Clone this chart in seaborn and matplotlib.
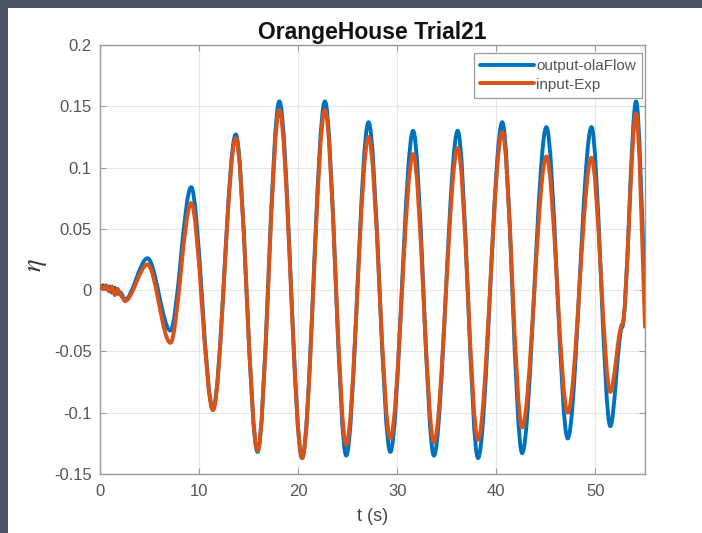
import numpy as np
import pandas as pd
import seaborn as sns
import matplotlib
matplotlib.use("Agg")
import matplotlib.pyplot as plt
from matplotlib.path import Path
from matplotlib.patches import PathPatch, Rectangle
from matplotlib.lines import Line2D

# ---------------- data ----------------
series_names = ["output-olaFlow", "input-Exp"]

# noisy lead-in (straight segments)
lead_t = [0.0, 0.3, 0.6, 0.9, 1.2, 1.5, 1.8, 2.1]
lead_output = [0.002, 0.004, 0.001, 0.003, -0.002, 0.002, -0.003, -0.002]
lead_input = [0.003, 0.001, 0.004, -0.001, 0.003, -0.004, 0.001, -0.004]

# crests / troughs of the wave train
ext_t = [2.5, 4.8, 7.1, 9.2, 11.4, 13.7, 15.9, 18.1, 20.4, 22.7, 24.85,
         27.1, 29.3, 31.6, 33.7, 36.1, 38.15, 40.6, 42.6, 45.05, 47.2,
         49.6, 51.5, 52.7, 54.1]
ext_output = [-0.008, 0.026, -0.033, 0.084, -0.097, 0.127, -0.132, 0.154,
              -0.137, 0.154, -0.135, 0.137, -0.132, 0.130, -0.135, 0.130,
              -0.137, 0.137, -0.133, 0.133, -0.121, 0.133, -0.111, -0.030,
              0.154]
ext_input = [-0.009, 0.021, -0.043, 0.071, -0.098, 0.124, -0.131, 0.147,
             -0.137, 0.147, -0.126, 0.125, -0.121, 0.111, -0.124, 0.116,
             -0.122, 0.129, -0.112, 0.109, -0.100, 0.108, -0.083, -0.028,
             0.144]

# last sample at the right edge
end_t = 55.0
end_output = -0.005
end_input = -0.030

x_ticks = [0, 10, 20, 30, 40, 50]
y_ticks = [-0.15, -0.1, -0.05, 0, 0.05, 0.1, 0.15, 0.2]
y_tick_labels = ["-0.15", "-0.1", "-0.05", "0", "0.05", "0.1", "0.15", "0.2"]

colors = ["#0072BD", "#D95319"]

# ---------------- style ----------------
sns.set_theme(style="whitegrid")
plt.rcParams["font.family"] = ["Liberation Sans", "DejaVu Sans"]
plt.rcParams["axes.unicode_minus"] = False
plt.rcParams["mathtext.fontset"] = "stix"


def wave_path(lt, ly, et, ey, tend, yend):
    verts = [(lt[0], ly[0])]
    codes = [Path.MOVETO]
    for t, y in zip(lt[1:], ly[1:]):
        verts.append((t, y))
        codes.append(Path.LINETO)
    verts.append((et[0], ey[0]))
    codes.append(Path.LINETO)
    for i in range(1, len(et)):
        t0, y0, t1, y1 = et[i - 1], ey[i - 1], et[i], ey[i]
        dt = t1 - t0
        verts += [(t0 + dt / 3, y0), (t1 - dt / 3, y1), (t1, y1)]
        codes += [Path.CURVE4] * 3
    t0, y0 = et[-1], ey[-1]
    dt = tend - t0
    verts += [(t0 + dt / 3, y0), (t0 + 2 * dt / 3, y0 + 0.6 * (yend - y0)), (tend, yend)]
    codes += [Path.CURVE4] * 3
    return Path(verts, codes)


W, H = 702, 533
fig = plt.figure(figsize=(W / 100, H / 100), dpi=100)
fig.patch.set_facecolor("#4b5467")
fig.add_artist(Rectangle((8 / W, 0), 1, 1 - 8 / H, transform=fig.transFigure,
                         facecolor="white", edgecolor="none", zorder=-10))

ax = fig.add_axes([100 / W, 1 - 474 / H, 545 / W, 429 / H])
ax.set_facecolor("white")

data = [
    (lead_output, ext_output, end_output),
    (lead_input, ext_input, end_input),
]
handles = []
for k, (ly, ey, yend) in enumerate(data):
    p = wave_path(lead_t, ly, ext_t, ey, end_t, yend)
    patch = PathPatch(p, facecolor="none", edgecolor=colors[k], lw=2.8,
                      capstyle="round", joinstyle="round", zorder=2 + k)
    ax.add_patch(patch)
    handles.append(Line2D([0], [0], color=colors[k], lw=2.8))

ax.set_xlim(0, 55)
ax.set_ylim(-0.15, 0.2)
ax.set_xticks(x_ticks)
ax.set_yticks(y_ticks)
ax.set_yticklabels(y_tick_labels)

ax.grid(True, color="#e6e6e6", lw=0.8)
for s in ax.spines.values():
    s.set_visible(True)
    s.set_color("#9a9a9a")
    s.set_linewidth(1.0)
ax.tick_params(direction="in", length=4, width=0.8, color="#9a9a9a",
               top=True, right=True, bottom=True, left=True,
               labelsize=12, labelcolor="#555555")
ax.tick_params(axis="x", pad=7)
ax.tick_params(axis="y", pad=6)

ax.set_title("OrangeHouse Trial21", fontsize=16.5, fontweight="bold",
             color="#111111", pad=4)
ax.set_xlabel("t (s)", fontsize=13, color="#444444", labelpad=7)
ax.set_ylabel(r"$\eta$", fontsize=19, color="#333333")
ax.yaxis.set_label_coords(-0.093, 0.487)

leg = ax.legend(handles, series_names, loc="upper right",
                bbox_to_anchor=(0.9945, 0.981), borderaxespad=0,
                fontsize=11, handlelength=3.5, handletextpad=0.15,
                labelspacing=0.3, borderpad=0.4, fancybox=False,
                framealpha=1, edgecolor="#9a9a9a")
leg.get_frame().set_linewidth(0.9)
for t in leg.get_texts():
    t.set_color("#555555")

fig.savefig("out.png", dpi=100, facecolor=fig.get_facecolor())
